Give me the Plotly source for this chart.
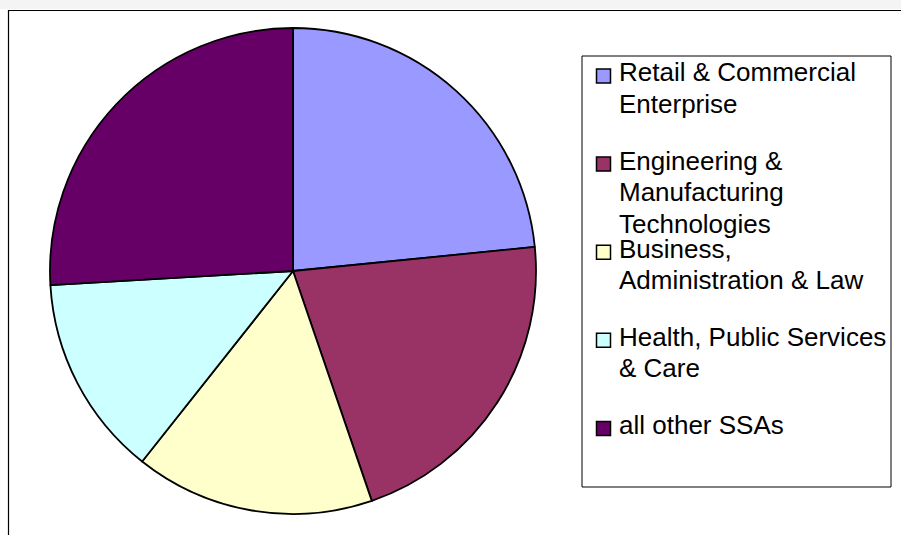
import plotly.graph_objects as go

W, H = 901, 535

labels = [
    "Retail & Commercial Enterprise",
    "Engineering & Manufacturing Technologies",
    "Business, Administration & Law",
    "Health, Public Services & Care",
    "all other SSAs",
]
values = [23.4, 21.3, 15.9, 13.4, 25.9]
colors = ["#9999FF", "#993366", "#FFFFCC", "#CCFFFF", "#660066"]
legend_lines = [
    ["Retail & Commercial", "Enterprise"],
    ["Engineering &", "Manufacturing", "Technologies"],
    ["Business,", "Administration & Law"],
    ["Health, Public Services", "& Care"],
    ["all other SSAs"],
]


def px(x):
    return x / W


def py(y):
    return 1 - y / H


cx, cy, r = 293, 271, 243

fig = go.Figure(
    go.Pie(
        labels=labels,
        values=values,
        sort=False,
        direction="clockwise",
        rotation=0,
        marker=dict(colors=colors, line=dict(color="black", width=1.8)),
        textinfo="none",
        hoverinfo="label+percent",
        showlegend=False,
        domain=dict(x=[px(cx - r), px(cx + r)], y=[py(cy + r), py(cy - r)]),
    )
)

shapes = [
    # light strip above the chart frame
    dict(type="rect", xref="paper", yref="paper", x0=0, x1=1, y0=py(9), y1=1,
         fillcolor="#f4f4f4", line=dict(width=0), layer="below"),
    # chart area frame
    dict(type="rect", xref="paper", yref="paper", x0=px(8.5), x1=px(W + 5),
         y0=py(H + 5), y1=py(10.5), line=dict(color="black", width=1.2),
         fillcolor="rgba(0,0,0,0)"),
    # legend box
    dict(type="rect", xref="paper", yref="paper", x0=px(582), x1=px(891),
         y0=py(487), y1=py(56), line=dict(color="black", width=1),
         fillcolor="white", layer="below"),
]
annotations = []

entry_y0, entry_step, line_step = 72.5, 88.1, 31.7
for i, lines in enumerate(legend_lines):
    y0 = entry_y0 + entry_step * i
    my = y0 + 3.5
    shapes.append(dict(type="rect", xref="paper", yref="paper",
                       x0=px(596.5), x1=px(610.5), y0=py(my + 7), y1=py(my - 7),
                       fillcolor=colors[i], line=dict(color="black", width=1.5)))
    for j, t in enumerate(lines):
        annotations.append(dict(
            text=t, xref="paper", yref="paper", x=px(617), y=py(y0 + line_step * j),
            xanchor="left", yanchor="middle", showarrow=False,
            font=dict(family="Liberation Sans, Arial, sans-serif", size=26, color="black"),
        ))

fig.update_layout(
    width=W, height=H, autosize=False,
    margin=dict(l=0, r=0, t=0, b=0),
    paper_bgcolor="white", plot_bgcolor="white",
    shapes=shapes, annotations=annotations,
)

fig.write_html(
    "out.html",
    config={"displayModeBar": False},
    post_script="document.body.style.margin='0';document.body.style.overflow='hidden';",
)
